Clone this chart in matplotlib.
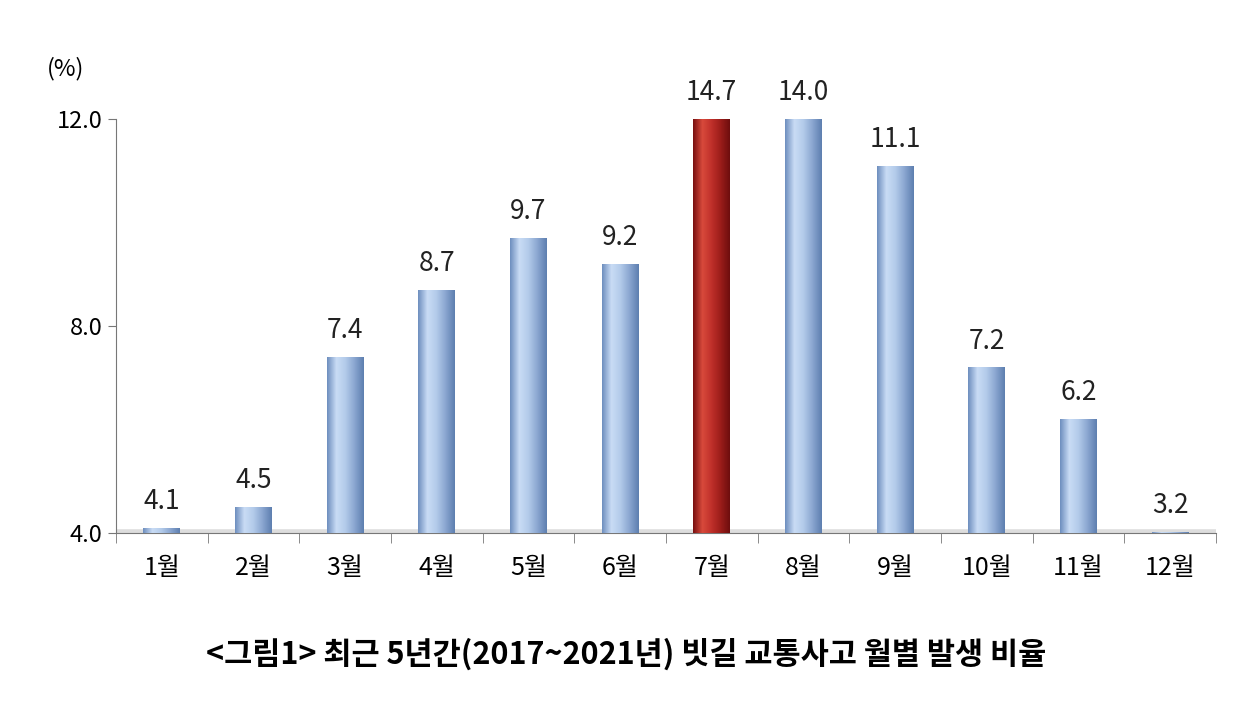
import numpy as np
import matplotlib.pyplot as plt
from matplotlib.colors import LinearSegmentedColormap
from matplotlib.patches import Rectangle

plt.rcParams['font.family'] = ['Noto Sans CJK KR', 'DejaVu Sans']

months = ['1월', '2월', '3월', '4월', '5월', '6월', '7월', '8월', '9월', '10월', '11월', '12월']
values = [4.1, 4.5, 7.4, 8.7, 9.7, 9.2, 14.7, 14.0, 11.1, 7.2, 6.2, 3.2]
highlight = 6
YMIN, YMAX = 4.0, 12.0

blue = LinearSegmentedColormap.from_list('b', ['#6f8fbf', '#c9dcf5', '#b3cbea', '#8aa6d0', '#5e7fb0'])
red = LinearSegmentedColormap.from_list('r', ['#7a1010', '#d84a3c', '#c0302a', '#9c1d1a', '#6e0e0e'])

fig = plt.figure(figsize=(12.6, 7.08), dpi=100)
ax = fig.add_axes([0.092, 0.247, 0.873, 0.585])
ax.set_xlim(-0.5, 11.5)
ax.set_ylim(YMIN, YMAX)

grad = np.linspace(0, 1, 64).reshape(1, -1)
w = 0.4
for i, v in enumerate(values):
    top = min(v, YMAX)
    if top <= YMIN:
        top = YMIN + 0.03
    cmap = red if i == highlight else blue
    im = ax.imshow(grad, cmap=cmap, aspect='auto', extent=(i - w / 2, i + w / 2, YMIN, top),
                   zorder=3)
    clip = Rectangle((i - w / 2, YMIN), w, top - YMIN, transform=ax.transData)
    im.set_clip_path(clip)
    ax.text(i, top + 0.25, f'{v:.1f}', ha='center', va='bottom', fontsize=19, color='#222222')

ax.set_xlim(-0.5, 11.5)
ax.set_ylim(YMIN, YMAX)
ax.plot([-0.5, 11.5], [YMIN + 0.03, YMIN + 0.03], color='#dddddd', lw=4, zorder=1)

for s in ['top', 'right']:
    ax.spines[s].set_visible(False)
ax.spines['left'].set_color('#777777')
ax.spines['bottom'].set_color('#777777')
ax.set_yticks([4, 8, 12])
ax.set_yticklabels(['4.0', '8.0', '12.0'], fontsize=17)
ax.set_xticks(range(12))
ax.set_xticklabels(months, fontsize=18)
ax.tick_params(axis='x', length=0, pad=16)
ax.set_xticks(np.arange(-0.5, 12, 1), minor=True)
ax.tick_params(axis='x', which='minor', length=7, color='#777777')
ax.tick_params(axis='y', length=6, color='#777777')
ax.text(-1.05, 12.75, '(%)', ha='center', va='bottom', fontsize=17)

fig.text(0.497, 0.075, '<그림1> 최근 5년간(2017~2021년) 빗길 교통사고 월별 발생 비율',
         ha='center', va='center', fontsize=22, fontweight='bold')

fig.savefig('out.png', dpi=100)
